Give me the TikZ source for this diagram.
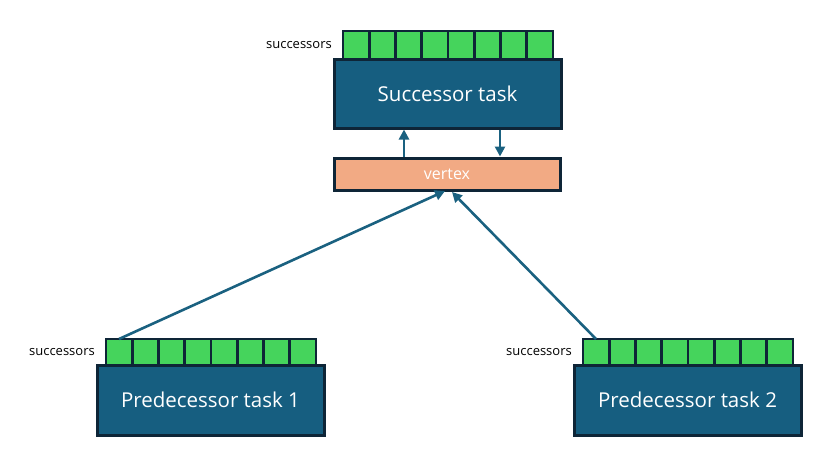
\documentclass[tikz,border=0pt]{standalone}
\usepackage{fontspec}
\setmainfont{Open Sans}
\usetikzlibrary{arrows.meta}
\definecolor{taskblue}{RGB}{22,94,128}
\definecolor{edge}{RGB}{14,37,55}
\definecolor{cellgreen}{RGB}{69,212,92}
\definecolor{vfill}{RGB}{242,170,132}
\definecolor{arrowc}{RGB}{26,97,128}
\tikzset{
  taskbox/.style={draw=edge, line width=3pt, fill=taskblue},
  tasktext/.style={text=white, font=\fontsize{20.5}{24}\selectfont},
  cellbox/.style={draw=edge, line width=2.6pt, fill=cellgreen},
  vbox/.style={draw=edge, line width=3pt, fill=vfill},
  vtext/.style={text=white, font=\fontsize{16}{19}\selectfont},
  lbl/.style={font=\fontsize{13}{15}\selectfont, text=black, anchor=east, inner sep=0pt},
  conn/.style={draw=arrowc, line width=2.6pt, -{Triangle[length=10pt,width=10pt]}}
}
\newcommand{\cellbar}[4]{% name, left x, top y, bottom y
  \foreach \i in {0,...,7} {
    \path[cellbox] ({#2+\i*26.25},#3) rectangle ({#2+(\i+1)*26.25},#4);
  }
  \coordinate (#1first) at ({#2+13},#3);
}
\begin{document}
\begin{tikzpicture}[x=1pt,y=-1pt]
\useasboundingbox (0,0) rectangle (840,455);
% successor
\cellbar{s}{343}{31}{59}
\node[lbl] (slbl) at (332,45) {successors};
\path[taskbox] (334,59) rectangle (561,128);
\node[tasktext] (succ) at (447.5,93.5) {Successor task};
\coordinate (sbot1) at (404,129.5);
\coordinate (sbot2) at (500,129.5);
% vertex
\path[vbox] (334,158) rectangle (560,190);
\node[vtext] (vert) at (447,174) {vertex};
\coordinate (vtop1) at (404,156.5);
\coordinate (vtop2) at (500,156.5);
\coordinate (vin1) at (445,191);
\coordinate (vin2) at (452,192);
% predecessor 1
\cellbar{p}{106}{339}{365}
\node[lbl] (p1lbl) at (95,352) {successors};
\path[taskbox] (97,365) rectangle (324,435);
\node[tasktext] (pred1) at (210.5,400) {Predecessor task 1};
% predecessor 2
\cellbar{q}{583}{339}{365}
\node[lbl] (p2lbl) at (572,352) {successors};
\path[taskbox] (574,365) rectangle (801,435);
\node[tasktext] (pred2) at (687.5,400) {Predecessor task 2};
% connectors
\draw[conn] (vtop1) -- (sbot1);
\draw[conn] (sbot2) -- (vtop2);
\draw[conn] (pfirst) -- (vin1);
\draw[conn] (qfirst) -- (vin2);
\end{tikzpicture}
\end{document}
